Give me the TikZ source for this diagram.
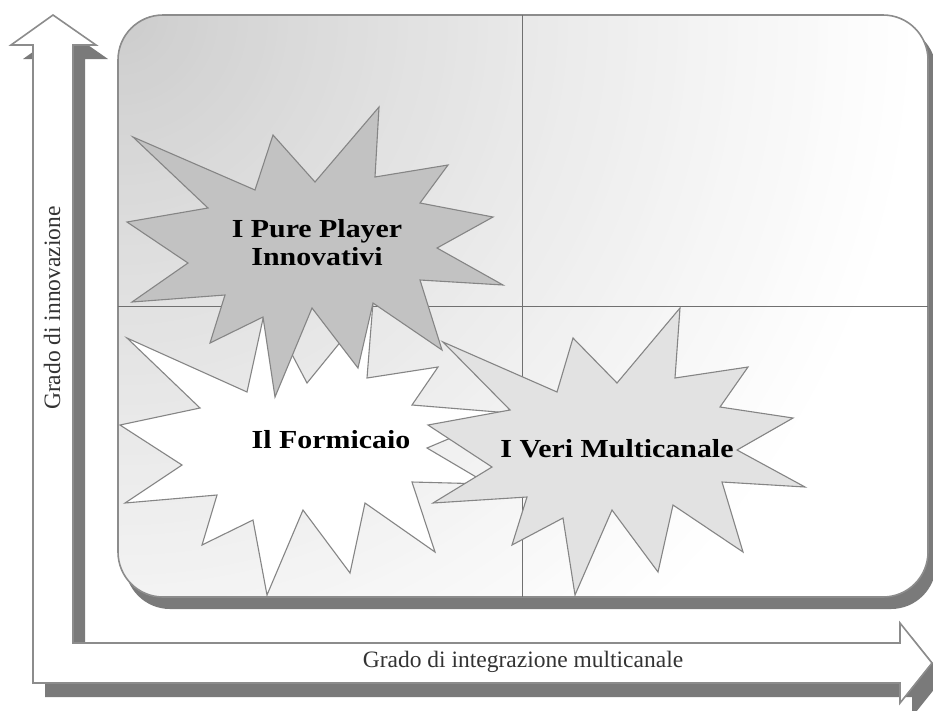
\documentclass[tikz,border=0pt]{standalone}
\usepackage{fontspec}
\setmainfont{Liberation Serif}
\newfontfamily\labfont[FakeStretch=1.15]{Liberation Serif}
\definecolor{shadowgray}{HTML}{7A7A7A}
\definecolor{bordergray}{HTML}{8C8C8C}
\definecolor{linegray}{HTML}{707070}
\definecolor{stargray}{HTML}{858585}
\definecolor{darkstar}{HTML}{C2C2C2}
\definecolor{lightstar}{HTML}{E2E2E2}
\begin{document}
\begin{tikzpicture}[x=1pt,y=-1pt,
  starline/.style={draw=stargray, line width=1.1pt, line join=miter},
  axislabel/.style={font=\fontsize{23.5}{26}\selectfont, text=black!80, inner sep=0pt},
  starlabel/.style={font=\labfont\bfseries\fontsize{26}{28}\selectfont, align=center, inner sep=0pt}]
\useasboundingbox (0,0) rectangle (933,710);
% axis arrows: shadow then body
\fill[shadowgray, shift={(12,14)}] (53,15) -- (96,45) -- (73,45) -- (73,643) -- (900,643) -- (900,623) -- (932,663) -- (900,703) -- (900,683) -- (33,683) -- (33,45) -- (11,45) -- cycle;
\filldraw[fill=white, draw=bordergray, line width=1.6pt, line join=miter] (53,15) -- (96,45) -- (73,45) -- (73,643) -- (900,643) -- (900,623) -- (932,663) -- (900,703) -- (900,683) -- (33,683) -- (33,45) -- (11,45) -- cycle;
% panel
\fill[shadowgray, rounded corners=45pt] (125,26) rectangle (936,609);
\begin{scope}
  \clip[rounded corners=45pt] (118,15) rectangle (928,597);
  \fill[white] (118,15) rectangle (928,597);
  \foreach \i in {0,...,79} {
    \pgfmathsetmacro{\rr}{800-10*\i}
    \pgfmathsetmacro{\LL}{203+52*((\rr/800)^0.85)}
    \pgfmathsetmacro{\kk}{100*(1-\LL/255)}
    \fill[black!\kk] (118,15) circle (\rr);
  }
\end{scope}
\draw[bordergray, line width=1.6pt, rounded corners=45pt] (118,15) rectangle (928,597);
\draw[linegray, line width=0.9pt] (522,15) -- (522,597);
\draw[linegray, line width=0.9pt] (118,306) -- (928,306);
% white star
\filldraw[starline, fill=white] (127,338) -- (247,392) -- (266,305) -- (307,383) -- (373,302) -- (367,378) -- (438,367) -- (412,405) -- (510,413) -- (427,448) -- (488,484) -- (412,482) -- (435,552) -- (365,503) -- (350,573) -- (303,510) -- (267,595) -- (253,520) -- (202,545) -- (217,495) -- (125,503) -- (182,465) -- (120,425) -- (200,408) -- cycle;
% light star
\filldraw[starline, fill=lightstar] (443,342) -- (557,392) -- (573,338) -- (617,383) -- (680,308) -- (675,378) -- (748,367) -- (720,407) -- (793,418) -- (737,450) -- (805,487) -- (722,482) -- (743,552) -- (673,505) -- (658,572) -- (612,510) -- (575,595) -- (563,518) -- (512,545) -- (527,497) -- (433,503) -- (492,467) -- (428,425) -- (510,410) -- cycle;
% dark star
\filldraw[starline, fill=darkstar] (133,137) -- (255,190) -- (273,135) -- (315,182) -- (379,107) -- (375,177) -- (448,165) -- (420,203) -- (493,217) -- (437,248) -- (503,285) -- (420,280) -- (442,350) -- (373,303) -- (358,368) -- (312,308) -- (275,397) -- (263,317) -- (210,343) -- (225,295) -- (132,302) -- (188,263) -- (127,222) -- (208,208) -- cycle;
% labels
\node[starlabel] (pure) at (317,243) {I Pure Player\\Innovativi};
\node[starlabel] (formi) at (331,440) {Il Formicaio};
\node[starlabel] (veri) at (617,449) {I Veri Multicanale};
\node[axislabel, rotate=90] (ylab) at (52,308) {Grado di innovazione};
\node[axislabel] (xlab) at (523,662) {Grado di integrazione multicanale};
\end{tikzpicture}
\end{document}
